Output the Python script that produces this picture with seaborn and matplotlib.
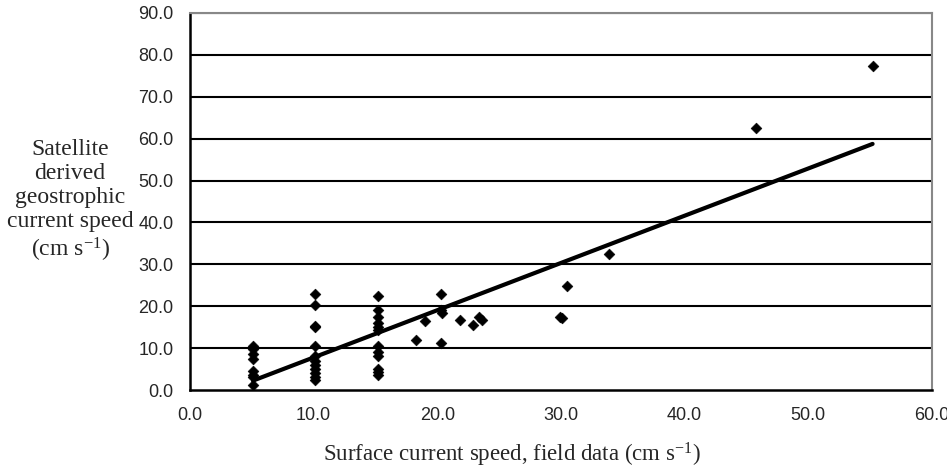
import numpy as np
import pandas as pd
import seaborn as sns
import matplotlib.pyplot as plt

# Field data (x) vs satellite derived speed (y), cm/s
field_speed = [5.1, 5.1, 5.1, 5.1, 5.1, 5.1, 5.1, 5.1,
               10.1, 10.1, 10.1, 10.1, 10.1, 10.1, 10.1, 10.1, 10.1, 10.1, 10.1, 10.1,
               15.2, 15.2, 15.2, 15.2, 15.2, 15.2, 15.2, 15.2, 15.2, 15.2, 15.2, 15.2,
               18.3, 19.0, 20.3, 20.3, 20.4, 20.3, 21.8, 22.9, 23.4, 23.6,
               29.9, 30.05, 30.45, 33.9, 45.8, 55.2]
satellite_speed = [10.4, 9.8, 8.5, 7.5, 4.5, 3.5, 3.0, 1.3,
                   22.8, 20.4, 15.3, 15.0, 10.4, 8.0, 7.0, 6.0, 5.0, 4.0, 3.2, 2.4,
                   22.4, 19.2, 17.5, 16.0, 15.0, 14.4, 10.4, 9.0, 8.0, 5.0, 4.2, 3.6,
                   12.0, 16.4, 22.9, 19.2, 18.4, 11.3, 16.8, 15.6, 17.4, 16.8,
                   17.5, 17.2, 24.8, 32.5, 62.5, 77.3]

x_ticks = np.arange(0, 61, 10)
y_ticks = np.arange(0, 91, 10)

df = pd.DataFrame({'field': field_speed, 'sat': satellite_speed})

sns.set_style('white')
plt.rcParams['mathtext.fontset'] = 'custom'
plt.rcParams['mathtext.rm'] = 'Liberation Serif'
plt.rcParams['mathtext.it'] = 'Liberation Serif'

fig = plt.figure(figsize=(9.47, 4.74), dpi=100)
ax = fig.add_axes([0.2006, 0.1772, 0.7835, 0.7954])

for yv in y_ticks[1:]:
    ax.axhline(yv, color='black', lw=1.5, zorder=1)

sns.scatterplot(data=df, x='field', y='sat', marker='D', s=30, color='black',
                edgecolor='black', ax=ax, zorder=3)

# least squares trend line, drawn over the data range
coef = np.polyfit(df['field'], df['sat'], 1)
xl = np.array([df['field'].min(), df['field'].max()])
sns.lineplot(x=xl, y=np.polyval(coef, xl), color='black', lw=3, ax=ax, zorder=4)

ax.set_xlim(0, 60)
ax.set_ylim(0, 90)
ax.set_xticks(x_ticks)
ax.set_yticks(y_ticks)
ax.set_xticklabels([f'{v:.1f}' for v in x_ticks], fontfamily='Liberation Sans', fontsize=13)
ax.set_yticklabels([f'{v:.1f}' for v in y_ticks], fontfamily='Liberation Sans', fontsize=13)
ax.tick_params(axis='both', direction='out', length=6, width=1.5, color='black', pad=6)

for side in ['left', 'bottom']:
    ax.spines[side].set_color('black')
    ax.spines[side].set_linewidth(1.8)
for side in ['top', 'right']:
    ax.spines[side].set_color('#888888')
    ax.spines[side].set_linewidth(1.5)

ax.set_xlabel('')
ax.set_ylabel('')
fig.text(0.54, 0.04, 'Surface current speed, field data (cm s$^{\\mathrm{-1}}$)',
         ha='center', va='center', fontfamily='Liberation Serif', fontsize=16.5)
fig.text(0.074, 0.575, 'Satellite\nderived\ngeostrophic\ncurrent speed\n(cm s$^{\\mathrm{-1}}$)',
         ha='center', va='center', fontfamily='Liberation Serif', fontsize=17,
         linespacing=1.2)

fig.savefig('out.png', dpi=100)
